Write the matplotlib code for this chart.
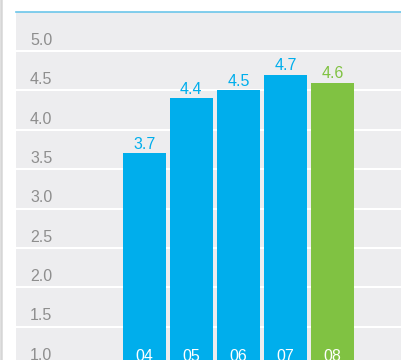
import matplotlib.pyplot as plt
from matplotlib.lines import Line2D

# data
categories = ["04", "05", "06", "07", "08"]
values = [3.7, 4.4, 4.5, 4.7, 4.6]
y_ticks = [1.0, 1.5, 2.0, 2.5, 3.0, 3.5, 4.0, 4.5, 5.0]

blue = "#00AEEC"
green = "#80C242"
colors = [blue, blue, blue, blue, green]

plt.rcParams["font.family"] = ["Liberation Sans", "DejaVu Sans"]

W, H = 401, 360
fig = plt.figure(figsize=(W / 100, H / 100), dpi=100)
fig.patch.set_facecolor("white")

# axes runs a little past the bottom edge (the reference is cropped there)
left, top, bottom = 16 / W, 1 - 11.7 / H, 1 - 366 / H
ax = fig.add_axes([left, bottom, 1 - left, top - bottom])
ax.set_facecolor("#EDEDEF")
ax.set_xlim(-2.73, 5.46)
ax.set_ylim(1.0, 5.5)

for v in y_ticks:
    ax.axhline(v, color="white", lw=1.5, zorder=1)
    ax.annotate(f"{v:.1f}", xy=(14 / (W - 16), v), xycoords=("axes fraction", "data"),
                xytext=(0, 2.3), textcoords="offset points", ha="left", va="bottom",
                fontsize=11.5, color="#8E8E8E", annotation_clip=False)

x = list(range(len(categories)))
ax.bar(x, values, width=0.904, color=colors, zorder=2)

for xi, v, c, cat in zip(x, values, colors, categories):
    ax.annotate(f"{v:.1f}", xy=(xi, v), xytext=(0, 1.2), textcoords="offset points",
                ha="center", va="bottom", fontsize=11.5, color=c)
    ax.annotate(cat, xy=(xi, 1.0), xytext=(0, 1.5), textcoords="offset points",
                ha="center", va="bottom", fontsize=11.5, color="white",
                annotation_clip=False, zorder=3)

for s in ax.spines.values():
    s.set_visible(False)
ax.set_xticks([])
ax.set_yticks([])

# light blue rule along the top of the plot area, grey rule at far left
fig.add_artist(Line2D([left, 1], [top, top], color="#6CC6EA", lw=1.2,
                      transform=fig.transFigure))
fig.add_artist(Line2D([1.2 / W, 1.2 / W], [0, 1], color="#D6D6D6", lw=1.8,
                      transform=fig.transFigure))

fig.savefig("out.png", dpi=100)
